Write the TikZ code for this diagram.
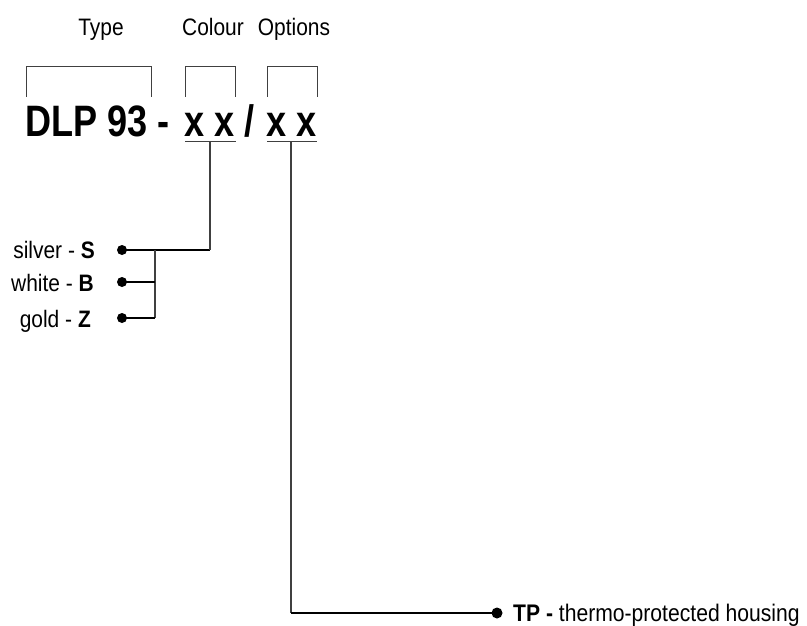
\documentclass[tikz,border=0pt]{standalone}
\usepackage{fontspec}
\setmainfont{Liberation Sans}[FakeStretch=0.88]
\newfontfamily\bigfont{Liberation Sans}[FakeStretch=0.82]
\begin{document}
\begin{tikzpicture}[x=1pt,y=-1pt,
  lbl/.style={inner sep=0pt,font=\fontsize{23.8}{26}\selectfont},
  big/.style={inner sep=0pt,font=\bigfont\bfseries\fontsize{44}{48}\selectfont},
  brk/.style={draw=black!75,line width=1pt},
  hline/.style={draw=black,line width=1.6pt},
  vline/.style={draw=black!75,line width=1.2pt},
  dotnode/.style={circle,fill=black,inner sep=0pt,minimum size=10pt}]
\useasboundingbox (0,0) rectangle (807,626);
% headings
\node[lbl,anchor=base] (type) at (101,36) {Type};
\node[lbl,anchor=base] (colour) at (213,36) {Colour};
\node[lbl,anchor=base] (options) at (294,36) {Options};
% brackets
\draw[brk] (26,97) -- (26,67) -- (151,67) -- (151,97);
\draw[brk] (185,97) -- (185,67) -- (235,67) -- (235,97);
\draw[brk] (267,97) -- (267,67) -- (317,67) -- (317,97);
% code
\node[big,anchor=base west] (dlp) at (25,137) {DLP 93 -};
\node[big,anchor=base] (x1) at (195,137) {x};
\node[big,anchor=base] (x2) at (225,137) {x};
\node[big,anchor=base] (sl) at (250,137) {/};
\node[big,anchor=base] (x3) at (277,137) {x};
\node[big,anchor=base] (x4) at (307,137) {x};
% underlines
\coordinate (u1a) at (185,142);
\coordinate (u1b) at (236,142);
\coordinate (u1m) at (210,142);
\coordinate (u2a) at (267,142);
\coordinate (u2b) at (317,142);
\coordinate (u2m) at (291,142);
\draw[brk] (u1a) -- (u1b);
\draw[brk] (u2a) -- (u2b);
% colour options
\node[lbl,anchor=base east] (silver) at (95,258.5) {silver - \textbf{S}};
\node[lbl,anchor=base east] (white) at (94,291) {white - \textbf{B}};
\node[lbl,anchor=base east] (gold) at (91,327) {gold - \textbf{Z}};
\node[dotnode] (ds) at (122,250) {};
\node[dotnode] (dw) at (122,282) {};
\node[dotnode] (dg) at (122,318) {};
\coordinate (bs) at (155,250);
\coordinate (bg) at (155,318);
\coordinate (cs) at (210,250);
\draw[hline] (ds.center) -- (cs);
\draw[vline] (cs) -- (u1m);
\draw[vline] (bs) -- (bg);
\draw[hline] (dw.center) -- (dw.center -| bs);
\draw[hline] (dg.center) -- (bg);
% TP option
\node[dotnode,minimum size=11pt] (dtp) at (497,613) {};
\node[lbl,anchor=base west,font=\fontsize{24}{26}\selectfont] (tp) at (513,621) {\textbf{TP -} thermo-protected housing};
\coordinate (ctp) at (291,613);
\draw[vline] (u2m) -- (ctp);
\draw[hline] (ctp) -- (dtp.center);
\end{tikzpicture}
\end{document}
